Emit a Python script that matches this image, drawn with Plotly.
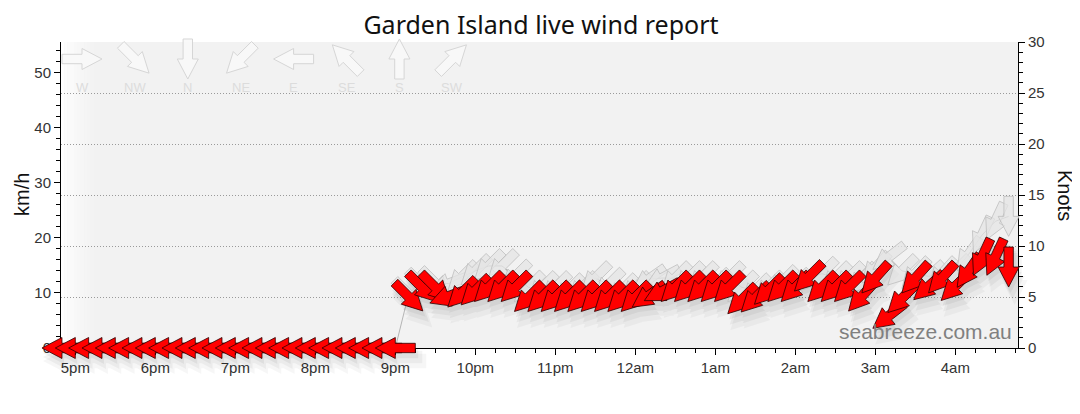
import numpy as np
import pandas as pd
import plotly.graph_objects as go

# readings every 10 minutes, 4:50pm -> 4:40am
first_reading = "2024-01-01 16:50"

speed_kmh = [0, 0, 0, 0, 0, 0, 0, 0, 0, 0, 0, 0, 0, 0, 0, 0, 0, 0, 0, 0, 0, 0, 0, 0, 0, 0,
             9.3, 11.0, 11.0, 9.4, 10.0, 10.4, 11.0, 11.0, 11.0, 9.2,
             9.2, 9.2, 9.2, 9.2, 9.2, 9.2, 9.2, 9.2, 9.5, 10.3,
             11.0, 11.0, 11.0, 11.0, 11.0, 8.8, 9.1, 10.5, 11.0, 11.0,
             12.9, 11.0, 11.0, 11.0, 9.4, 12.7, 5.8, 9.0, 12.7, 11.2,
             12.7, 11.2, 14.0, 16.5, 16.5, 14.7]

gust_kmh = [0, 0, 0, 0, 0, 0, 0, 0, 0, 0, 0, 0, 0, 0, 0, 0, 0, 0, 0, 0, 0, 0, 0, 0, 0, 0,
            9.8, 11.5, 11.8, 11.7, 12.9, 14.0, 14.9, 14.9, 13.0, 11.0,
            10.9, 10.9, 10.5, 10.9, 12.7, 11.5, 10.5, 10.9, 12.5, 12.7,
            12.7, 12.7, 12.7, 11.5, 12.7, 11.0, 10.5, 11.0, 12.0, 11.5,
            12.7, 13.5, 12.7, 12.7, 12.5, 14.5, 16.5, 14.0, 13.5, 13.0,
            13.5, 14.0, 17.0, 20.5, 23.0, 23.9]

# compass direction the wind comes from, degrees
direction_deg = [90, 90, 90, 90, 90, 90, 90, 90, 90, 90, 90, 90, 90, 90, 90, 90, 90, 90, 90, 90, 90, 90, 90, 90, 90, 90,
                 315, 315, 315, 70, 45, 45, 45, 45, 45, 45,
                 45, 45, 45, 45, 45, 45, 45, 45, 55, 62,
                 45, 45, 45, 45, 45, 45, 45, 45, 45, 45,
                 45, 45, 45, 45, 42, 42, 52, 45, 42, 48,
                 42, 45, 35, 25, 25, 0]

hour_ticks = ["17:00", "18:00", "19:00", "20:00", "21:00", "22:00", "23:00",
              "00:00", "01:00", "02:00", "03:00", "04:00"]
hour_labels = ["5pm", "6pm", "7pm", "8pm", "9pm", "10pm", "11pm",
               "12am", "1am", "2am", "3am", "4am"]

compass_names = ["W", "NW", "N", "NE", "E", "SE", "S", "SW"]
compass_deg = [270, 315, 0, 45, 90, 135, 180, 225]

# page geometry in screen pixels; the page body adds an 8px margin
OFF = 8
FW, FH = 1080 - OFF, 414 - OFF
L, R, T, B = 61, 1018, 42, 348
MS_PER_PX = 3600000 / 80
KMH_MAX = 30 * 1.852
KMH_PER_PX = KMH_MAX / (B - T)


def fx(px):
    return (px - OFF) / FW


def fy(py):
    return 1 - (py - OFF) / FH


x_start = pd.Timestamp("2024-01-01 17:00") - pd.Timedelta(milliseconds=14.3 * MS_PER_PX)
x_end = x_start + pd.Timedelta(milliseconds=(R - L) * MS_PER_PX)

times = pd.date_range(first_reading, periods=len(speed_kmh), freq="10min")
tick_vals = [pd.Timestamp("2024-01-01 " + h) + pd.Timedelta(days=1 if h < "12" else 0) for h in hour_ticks]

# arrow outline along +u, centred on the point: shaft then head
ARROW = [(-20, -4.7), (0, -4.7), (0, -10.5), (20, 0), (0, 10.5), (0, 4.7), (-20, 4.7)]


def arrow_offsets(from_deg, grow=0):
    a = np.radians(from_deg + 180)
    d = (np.sin(a), -np.cos(a))
    n = (-d[1], d[0])
    pts = []
    for u, v in ARROW:
        u = u * (1 + grow / 20)
        v = v + np.sign(v) * grow * 0.5
        pts.append((u * d[0] + v * n[0], u * d[1] + v * n[1]))
    return pts


def wind_arrow(t, v, deg, dx=0, dy=0, grow=0):
    xs, ys = [], []
    for px, py in arrow_offsets(deg, grow):
        xs.append(t + pd.Timedelta(milliseconds=(px + dx) * MS_PER_PX))
        ys.append(v - (py + dy) * KMH_PER_PX)
    xs.append(xs[0])
    ys.append(ys[0])
    return xs, ys


fig = go.Figure()

# gust line on the main axes
fig.add_trace(go.Scatter(x=times, y=gust_kmh, mode="lines", line=dict(color="#b4b4b4", width=1),
                         hoverinfo="skip", showlegend=False))
fig.add_trace(go.Scatter(x=[], y=[], yaxis="y2", showlegend=False))

# soft shadow under the arrows
for (sx, sy, g, alpha) in [(2, 5, 1, 0.05), (4, 9, 3, 0.045), (6, 13, 5, 0.035)]:
    xs, ys = [], []
    for t, v, d in zip(times, speed_kmh, direction_deg):
        ax, ay = wind_arrow(t, v, d, sx, sy, g)
        xs += ax + [None]
        ys += ay + [None]
    fig.add_trace(go.Scatter(x=xs, y=ys, xaxis="x2", yaxis="y3", mode="lines", fill="toself",
                             fillcolor=f"rgba(0,0,0,{alpha})", line=dict(width=0),
                             hoverinfo="skip", showlegend=False))

# gust arrows
for t, g, d in zip(times, gust_kmh, direction_deg):
    if g <= 0:
        continue
    ax, ay = wind_arrow(t, g, d)
    fig.add_trace(go.Scatter(x=ax, y=ay, xaxis="x2", yaxis="y3", mode="lines", fill="toself",
                             fillcolor="rgba(228,228,228,0.75)",
                             line=dict(color="rgba(185,185,185,0.9)", width=0.8),
                             hoverinfo="skip", showlegend=False))

# wind arrows
for t, v, d in zip(times, speed_kmh, direction_deg):
    ax, ay = wind_arrow(t, v, d)
    fig.add_trace(go.Scatter(x=ax, y=ay, xaxis="x2", yaxis="y3", mode="lines", fill="toself",
                             fillcolor="#ff0000", line=dict(color="#2a0000", width=0.8),
                             hoverinfo="skip", showlegend=False))

# plot background and white fade on the left
shapes = [dict(type="rect", xref="paper", yref="paper", x0=fx(L), x1=fx(R),
               y0=fy(B), y1=fy(T), fillcolor="#f2f2f2", line_width=0, layer="below")]
for i in range(12):
    shapes.append(dict(type="rect", xref="paper", yref="paper",
                       x0=fx(L + i * 3.3), x1=fx(L + (i + 1) * 3.3),
                       y0=fy(B), y1=fy(T), fillcolor="white",
                       opacity=(1 - (i + 0.5) / 12) ** 1.5, line_width=0, layer="below"))

# compass key at the top
annotations = []
for i, (name, deg) in enumerate(zip(compass_names, compass_deg)):
    cx, cy = 82 + 52.9 * i, 59
    pts = arrow_offsets(deg)
    path = "M" + " L".join(f"{fx(cx + px):.5f},{fy(cy + py):.5f}" for px, py in pts) + " Z"
    shapes.append(dict(type="path", xref="paper", yref="paper", path=path,
                       fillcolor="rgba(248,248,248,0.9)", line=dict(color="#d6d6d6", width=1)))
    annotations.append(dict(x=fx(cx), y=fy(87), xref="paper", yref="paper", text=name,
                            xanchor="center", yanchor="middle", showarrow=False,
                            font=dict(size=13, color="#dcdcdc", family="Liberation Sans, Arial")))

annotations += [
    dict(x=fx(22), y=fy(195), xref="paper", yref="paper", text="km/h", textangle=-90,
         xanchor="center", yanchor="middle", showarrow=False,
         font=dict(size=20, color="#111", family="Liberation Sans, Arial")),
    dict(x=fx(1065), y=fy(195), xref="paper", yref="paper", text="Knots", textangle=90,
         xanchor="center", yanchor="middle", showarrow=False,
         font=dict(size=20, color="#111", family="Liberation Sans, Arial")),
    dict(x=fx(925), y=fy(331), xref="paper", yref="paper", text="seabreeze.com.au",
         xanchor="center", yanchor="middle", showarrow=False,
         font=dict(size=21, color="#808080", family="Liberation Sans, Arial")),
]

axis_common = dict(ticks="outside", ticklen=6, tickcolor="black", showline=True, linecolor="black",
                   linewidth=1, zeroline=False, automargin=False, tickfont=dict(size=15, color="#333"))

fig.update_layout(
    width=FW, height=FH,
    margin=dict(l=0, r=0, t=0, b=0, autoexpand=False),
    paper_bgcolor="white",
    plot_bgcolor="rgba(0,0,0,0)",
    font=dict(family="Liberation Sans, Arial"),
    title=dict(text="Garden Island live wind report", x=fx(541), xanchor="center", y=fy(25),
               yanchor="middle", font=dict(size=25, color="#111", family="Noto Sans")),
    xaxis=dict(domain=[fx(L), fx(R)], anchor="y", type="date", range=[x_start, x_end],
               tickmode="array", tickvals=tick_vals, ticktext=hour_labels, showgrid=False,
               minor=dict(ticks="outside", ticklen=4, tickcolor="black", dtick=15 * 60 * 1000,
                          tick0="2024-01-01 17:00"),
               **axis_common),
    yaxis=dict(domain=[fy(B), fy(T)], anchor="x", range=[0, KMH_MAX],
               tickmode="array", tickvals=[0, 10, 20, 30, 40, 50], showgrid=False,
               minor=dict(ticks="outside", ticklen=4, tickcolor="black", dtick=2, tick0=0),
               **axis_common),
    yaxis2=dict(overlaying="y", side="right", anchor="x", range=[0, 30], dtick=5, tick0=0,
                showgrid=True, gridcolor="#9a9a9a", griddash="1px,2px", gridwidth=1,
                minor=dict(ticks="outside", ticklen=4, tickcolor="black", dtick=1, tick0=0),
                **axis_common),
    xaxis2=dict(domain=[0, 1], anchor="y3", type="date", visible=False, automargin=False,
                range=[x_start - pd.Timedelta(milliseconds=(L - OFF) * MS_PER_PX),
                       x_end + pd.Timedelta(milliseconds=(OFF + FW - R) * MS_PER_PX)]),
    yaxis3=dict(domain=[0, 1], anchor="x2", visible=False, automargin=False,
                range=[-(OFF + FH - B) * KMH_PER_PX, KMH_MAX + (T - OFF) * KMH_PER_PX]),
    shapes=shapes,
    annotations=annotations,
)

fig.write_html("out.html")
